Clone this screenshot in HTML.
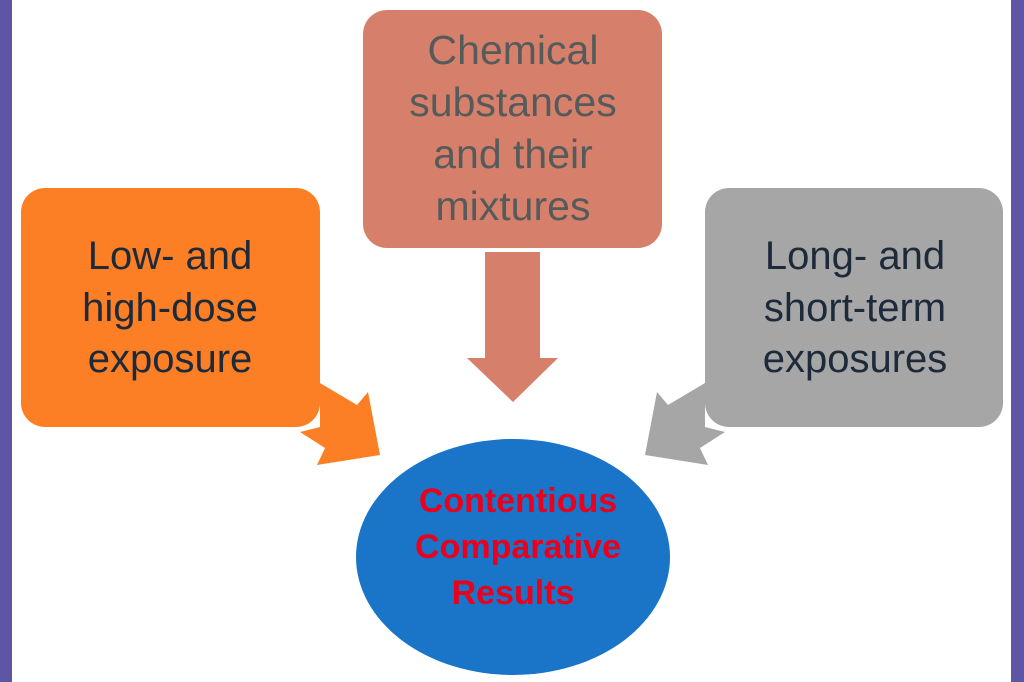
<!DOCTYPE html>
<html><head><meta charset="utf-8"><style>
html,body{margin:0;padding:0;background:#fff}
svg{display:block}
text{font-family:"Liberation Sans",sans-serif;text-anchor:middle}
</style></head><body>
<svg width="1024" height="682" viewBox="0 0 1024 682" xmlns="http://www.w3.org/2000/svg">
<rect width="1024" height="682" fill="#fff"/>
<rect x="0" y="0" width="12" height="682" fill="#5e55a6"/>
<rect x="1011" y="0" width="13" height="682" fill="#5e55a6"/>
<rect x="363" y="10" width="299" height="238" rx="24" fill="#d6806c"/>
<polygon points="485,252 540,252 540,358 558,358 513,402 467,358 485,358" fill="#d6806c"/>
<polygon points="320,383 357,405 368,392 380,455 317,465 325,448 300,432 320,427" fill="#fc7f26"/>
<polygon points="705,383 668,405 657,392 645,455 708,465 700,448 725,432 705,427" fill="#a6a6a6"/>
<rect x="21" y="188" width="299" height="239" rx="24" fill="#fc7f26"/>
<rect x="705" y="188" width="298" height="239" rx="24" fill="#a6a6a6"/>
<ellipse cx="513" cy="557" rx="157" ry="118" fill="#1a74c8"/>
<g font-size="41" fill="#555a5a">
<text x="513" y="64">Chemical</text>
<text x="513" y="116">substances</text>
<text x="513" y="168">and their</text>
<text x="513" y="220">mixtures</text>
</g>
<g font-size="40" fill="#1c2a3a">
<text x="170" y="269">Low- and</text>
<text x="170" y="321">high-dose</text>
<text x="170" y="372">exposure</text>
<text x="855" y="269">Long- and</text>
<text x="855" y="321">short-term</text>
<text x="855" y="372">exposures</text>
</g>
<g font-size="34" font-weight="bold" fill="#e8001c">
<text x="518" y="512">Contentious</text>
<text x="518" y="558">Comparative</text>
<text x="513" y="604">Results</text>
</g>
</svg>
</body></html>
